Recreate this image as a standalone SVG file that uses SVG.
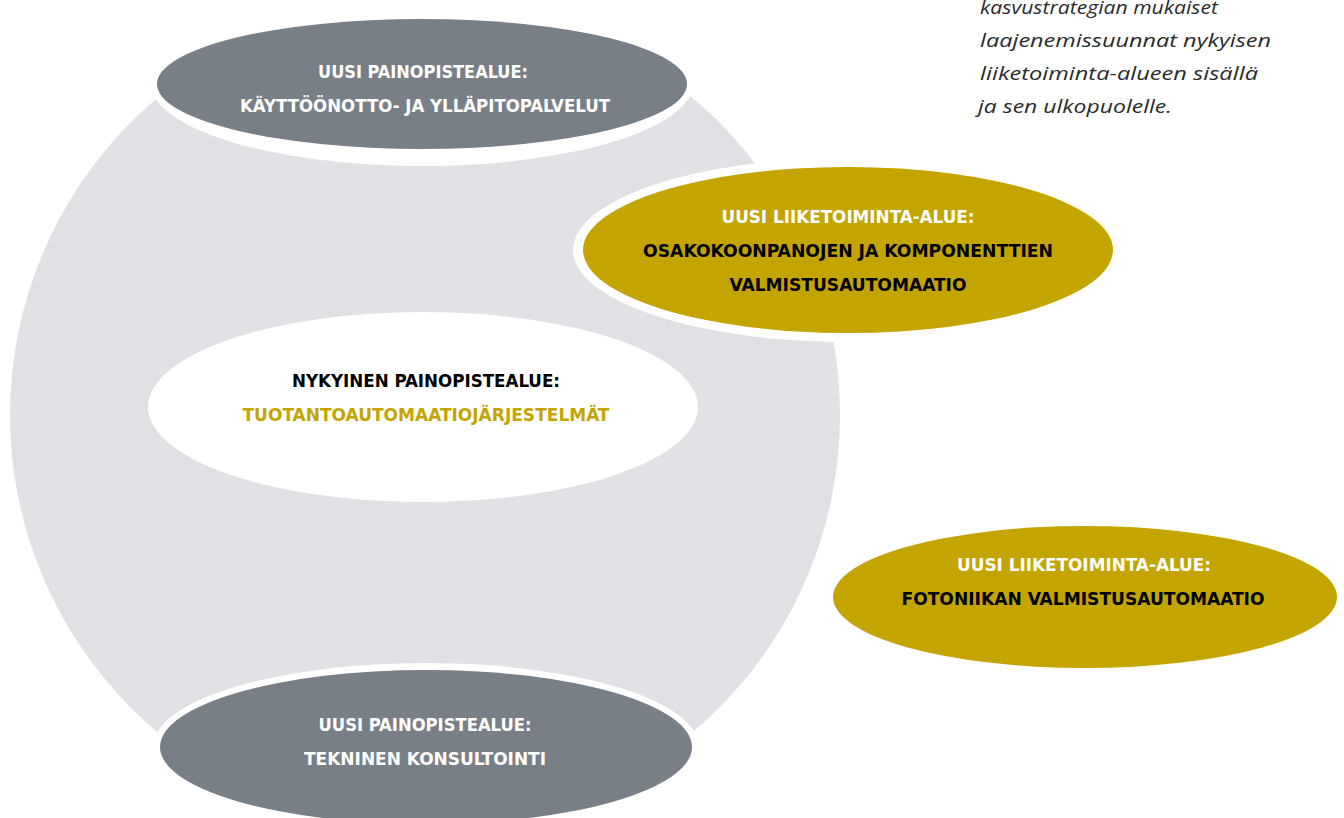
<svg xmlns="http://www.w3.org/2000/svg" width="1344" height="818" viewBox="0 0 1344 818">
<style>
.bg{fill:#ffffff}
.circle{fill:#dfe1e4}
.gray{fill:#787f87}
.gold{fill:#c4a500}
.white{fill:#ffffff}
.halo{fill:#ffffff}
.lbl{font-family:"Liberation Sans Narrow","DejaVu Sans Condensed","Liberation Sans",sans-serif;font-weight:bold;font-size:17.5px;text-anchor:middle;font-stretch:condensed}
.w{fill:#ffffff}
.k{fill:#000000}
.y{fill:#c4a500}
.note{font-family:"Open Sans","Noto Sans",sans-serif;font-style:italic;font-size:18.5px;fill:#2b2b2b}
</style>
<rect class="bg" x="0" y="0" width="1344" height="818"/>
<g id="scope-circle"><circle class="circle" cx="425" cy="415" r="415"/></g>
<g id="node-top">
<ellipse class="halo" cx="422" cy="82" rx="272" ry="84"/>
<ellipse class="gray" cx="422" cy="84" rx="265" ry="65"/>
<text class="lbl w" x="423" y="78" textLength="210" lengthAdjust="spacingAndGlyphs">UUSI PAINOPISTEALUE:</text>
<text class="lbl w" x="425" y="112" textLength="370" lengthAdjust="spacingAndGlyphs">KÄYTTÖÖNOTTO- JA YLLÄPITOPALVELUT</text>
</g>
<g id="node-gold1">
<ellipse class="halo" cx="848" cy="250" rx="275" ry="92"/>
<ellipse class="gold" cx="848" cy="250" rx="265" ry="83"/>
<text class="lbl w" x="848" y="223" textLength="253" lengthAdjust="spacingAndGlyphs">UUSI LIIKETOIMINTA-ALUE:</text>
<text class="lbl k" x="848" y="257" textLength="410" lengthAdjust="spacingAndGlyphs">OSAKOKOONPANOJEN JA KOMPONENTTIEN</text>
<text class="lbl k" x="848" y="291" textLength="237" lengthAdjust="spacingAndGlyphs">VALMISTUSAUTOMAATIO</text>
</g>
<g id="node-center">
<ellipse class="white" cx="423" cy="407" rx="275" ry="95"/>
<text class="lbl k" x="426" y="387" textLength="268" lengthAdjust="spacingAndGlyphs">NYKYINEN PAINOPISTEALUE:</text>
<text class="lbl y" x="426" y="421" textLength="367" lengthAdjust="spacingAndGlyphs">TUOTANTOAUTOMAATIOJÄRJESTELMÄT</text>
</g>
<g id="node-gold2">
<ellipse class="gold" cx="1085" cy="597" rx="252" ry="71"/>
<text class="lbl w" x="1084" y="571" textLength="254" lengthAdjust="spacingAndGlyphs">UUSI LIIKETOIMINTA-ALUE:</text>
<text class="lbl k" x="1083" y="605" textLength="363" lengthAdjust="spacingAndGlyphs">FOTONIIKAN VALMISTUSAUTOMAATIO</text>
</g>
<g id="node-bottom">
<ellipse class="halo" cx="426" cy="747" rx="273" ry="84"/>
<ellipse class="gray" cx="426" cy="747" rx="266" ry="77"/>
<text class="lbl w" x="425" y="731" textLength="213" lengthAdjust="spacingAndGlyphs">UUSI PAINOPISTEALUE:</text>
<text class="lbl w" x="425" y="765" textLength="242" lengthAdjust="spacingAndGlyphs">TEKNINEN KONSULTOINTI</text>
</g>
<g id="note">
<text class="note" x="980" y="14" textLength="238" lengthAdjust="spacingAndGlyphs">kasvustrategian mukaiset</text>
<text class="note" x="980" y="47" textLength="291" lengthAdjust="spacingAndGlyphs">laajenemissuunnat nykyisen</text>
<text class="note" x="980" y="80" textLength="278" lengthAdjust="spacingAndGlyphs">liiketoiminta-alueen sisällä</text>
<text class="note" x="978" y="113" textLength="194" lengthAdjust="spacingAndGlyphs">ja sen ulkopuolelle.</text>
</g>
<g id="connectors"/>
</svg>
